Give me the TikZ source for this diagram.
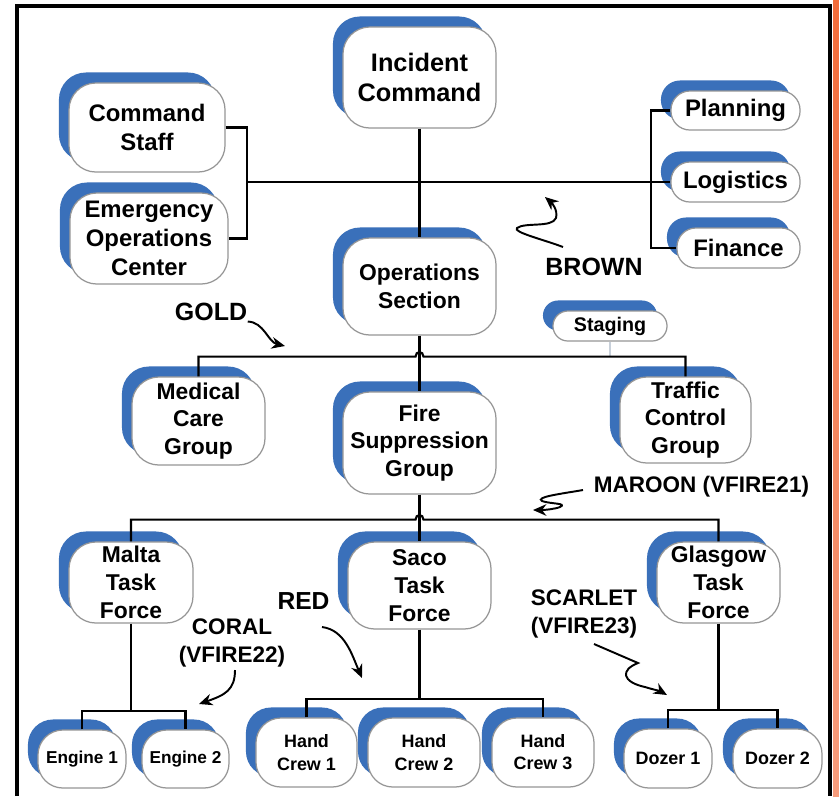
\documentclass[tikz,border=0pt]{standalone}
\usepackage{fontspec}
\setmainfont{Liberation Sans}
\usepackage{tikz}
\usetikzlibrary{arrows.meta,shadows,calc,positioning}
\definecolor{icsblue}{RGB}{58,112,186}
\definecolor{boxline}{RGB}{150,150,150}
\definecolor{stagline}{RGB}{200,208,218}
\definecolor{edgeorange}{RGB}{242,108,58}
\definecolor{edgesalmon}{RGB}{246,156,124}
\tikzset{
  icsbox/.style={draw=boxline,line width=0.35pt,fill=white,inner sep=0pt,align=center,
    general shadow={fill=icsblue,draw=none,shadow xshift=-0.1cm,shadow yshift=0.105cm}},
  bigbox/.style={icsbox,rounded corners=0.27cm,font=\fontsize{6.5}{7.9}\selectfont\bfseries},
  pillbox/.style={icsbox,rounded corners=0.19cm,font=\fontsize{6.8}{8}\selectfont\bfseries},
  smallbox/.style={icsbox,rounded corners=0.25cm,font=\fontsize{5.1}{6.3}\selectfont\bfseries},
  orgline/.style={line width=0.6pt,black},
  radioarrow/.style={line width=0.55pt,-{Stealth[length=3.8pt,width=3.3pt]}},
  callsign/.style={inner sep=0pt,align=center,font=\fontsize{6.4}{7.9}\selectfont\bfseries},
  outerframe/.style={line width=0.9pt,black}
}

\begin{document}
\begin{tikzpicture}[x=0.01cm,y=-0.01cm]
\useasboundingbox (0,0) rectangle (839,796);
\fill[white] (0,0) rectangle (839,796);
\shade[top color=edgeorange,bottom color=edgesalmon] (833,0) rectangle (839,796);
\draw[outerframe] (17,796) -- (17,6) -- (830,6) -- (830,796);

% command level
\node[bigbox,font=\fontsize{7.2}{8.5}\selectfont\bfseries,minimum width=1.53cm,minimum height=1.01cm] (ic) at (419.5,77.5) {Incident\\Command};
\node[bigbox,font=\fontsize{6.8}{8}\selectfont\bfseries,minimum width=1.56cm,minimum height=0.89cm] (cs) at (147,127.5) {Command\\Staff};
\node[bigbox,font=\fontsize{6.8}{8.3}\selectfont\bfseries,minimum width=1.58cm,minimum height=0.91cm] (eoc) at (149,238.5) {Emergency\\Operations\\Center};
\node[pillbox,minimum width=1.29cm,minimum height=0.39cm] (plan) at (735.5,110.5) {Planning};
\node[pillbox,minimum width=1.29cm,minimum height=0.40cm] (logi) at (735.5,182) {Logistics};
\node[pillbox,minimum width=1.23cm,minimum height=0.40cm] (fin) at (738.5,248) {Finance};

% operations
\node[bigbox,minimum width=1.53cm,minimum height=0.97cm] (ops) at (419.5,286.5) {Operations\\Section};
\node[pillbox,rounded corners=0.15cm,font=\fontsize{5.6}{6.5}\selectfont\bfseries,minimum width=1.14cm,minimum height=0.30cm] (stag) at (610,326) {Staging};
\node[bigbox,minimum width=1.33cm,minimum height=0.88cm] (med) at (198.5,421) {Medical\\Care\\Group};
\node[bigbox,minimum width=1.53cm,minimum height=1.02cm] (fire) at (419.5,443) {Fire\\Suppression\\Group};
\node[bigbox,minimum width=1.31cm,minimum height=0.86cm] (traf) at (685.5,420) {Traffic\\Control\\Group};

% task forces
\node[bigbox,minimum width=1.24cm,minimum height=0.81cm] (malta) at (131,582.5) {Malta\\Task\\Force};
\node[bigbox,minimum width=1.43cm,minimum height=0.87cm] (saco) at (419.5,585.5) {Saco\\Task\\Force};
\node[bigbox,minimum width=1.23cm,minimum height=0.81cm] (glas) at (718.5,582.5) {Glasgow\\Task\\Force};

% resources
\node[smallbox,font=\fontsize{4.9}{6}\selectfont\bfseries,minimum width=0.88cm,minimum height=0.58cm] (eng1) at (82,759) {Engine 1};
\node[smallbox,font=\fontsize{4.9}{6}\selectfont\bfseries,minimum width=0.87cm,minimum height=0.58cm] (eng2) at (185.5,759) {Engine 2};
\node[smallbox,minimum width=1.01cm,minimum height=0.69cm] (hc1) at (306.5,752.5) {Hand\\Crew 1};
\node[smallbox,minimum width=1.12cm,minimum height=0.69cm] (hc2) at (424,752.5) {Hand\\Crew 2};
\node[smallbox,minimum width=1.02cm,minimum height=0.69cm] (hc3) at (543,752.5) {Hand\\Crew 3};
\node[smallbox,minimum width=0.88cm,minimum height=0.59cm] (doz1) at (668,758.5) {Dozer 1};
\node[smallbox,minimum width=0.89cm,minimum height=0.59cm] (doz2) at (777.5,758.5) {Dozer 2};

% connectors
\coordinate (lj) at (247,182);
\coordinate (rj) at (651,182);
\draw[orgline] (ic.south) -- (ops.north);
\draw[orgline] (cs.east) -| (lj) |- (eoc.east);
\draw[orgline] (lj) -- (logi.west);
\draw[orgline] (plan.west) -| (rj) |- (fin.west);

\path (ops.south) ++(0,21) coordinate (goldbar);
\draw[orgline] (ops.south) -- (fire.north);
\draw[line width=0.5pt,stagline] (stag.south) -- (stag.south |- goldbar);
\draw[orgline] (med.north) |- ($(goldbar)+(-4,0)$) .. controls +(0,-6) and +(0,-6) .. ($(goldbar)+(4,0)$) -| (traf.north);

\path (fire.south) ++(0,25) coordinate (maroonbar);
\draw[orgline] (fire.south) -- (saco.north);
\draw[orgline] (malta.north) |- ($(maroonbar)+(-4,0)$) .. controls +(0,-6) and +(0,-6) .. ($(maroonbar)+(4,0)$) -| (glas.north);

\draw[orgline] (malta.south) -- ++(0,87) coordinate (maltaj);
\draw[orgline] (eng1.north) |- (maltaj) -| (eng2.north);
\draw[orgline] (saco.south) -- ++(0,69) coordinate (sacoj);
\draw[orgline] (hc1.north) |- (sacoj) -| (hc3.north);
\draw[orgline] (glas.south) -- ++(0,86) coordinate (glasj);
\draw[orgline] (doz1.north) |- (glasj) -| (doz2.north);

% radio channels
\node[callsign,font=\fontsize{7.1}{8}\selectfont\bfseries] (gold) at (211,312) {GOLD};
\node[callsign,font=\fontsize{7.1}{8}\selectfont\bfseries] (brown) at (594,267) {BROWN};
\node[callsign] (maroon) at (701.5,487) {MAROON (VFIRE21)};
\node[callsign] (coral) at (232,643) {CORAL\\(VFIRE22)};
\node[callsign,font=\fontsize{7}{8}\selectfont\bfseries] (red) at (303.5,601) {RED};
\node[callsign] (scarlet) at (584,614) {SCARLET\\(VFIRE23)};

\coordinate (goldtip) at (285,346);
\coordinate (browntail) at (563,247);
\coordinate (browntip) at (545,197);
\coordinate (maroontail) at (583,490);
\coordinate (maroontip) at (533,510);
\coordinate (coraltail) at (235,670);
\coordinate (coraltip) at (199,704);
\coordinate (redtail) at (322,627);
\coordinate (redtip) at (362,678);
\coordinate (scarlettail) at (594,644);
\coordinate (scarlettip) at (667,695);
\draw[radioarrow] (gold.south east) .. controls (264,322) and (268,342) .. (goldtip);
\draw[radioarrow] (browntail) .. controls (545,240) and (512,232) .. (517,228) .. controls (525,222) and (552,228) .. (556,218) .. controls (558,210) and (552,203) .. (browntip);
\draw[radioarrow] (maroontail) .. controls (560,494) and (535,497) .. (542,501) .. controls (550,504) and (568,503) .. (560,507) .. controls (555,509) and (545,510) .. (maroontip);
\draw[radioarrow] (coraltail) .. controls (235,690) and (225,695) .. (coraltip);
\draw[radioarrow] (redtail) .. controls (345,630) and (352,655) .. (redtip);
\draw[radioarrow] (scarlettail) -- (638,663) .. controls (620,670) and (622,682) .. (645,687) .. controls (655,690) and (660,691) .. (scarlettip);
\end{tikzpicture}
\end{document}
